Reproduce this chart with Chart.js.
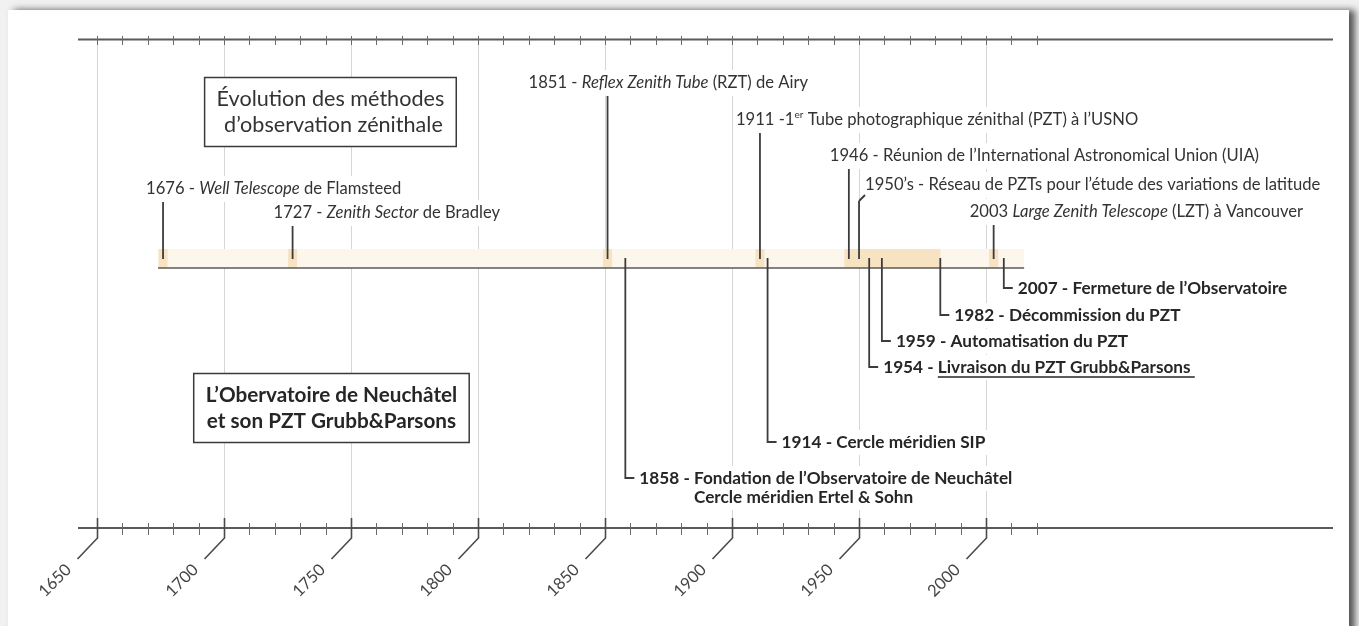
<!DOCTYPE html>
<html>
<head>
<meta charset="utf-8">
<script src="https://cdn.jsdelivr.net/npm/chart.js@4.4.1/dist/chart.umd.min.js"></script>
<style>
  html, body { margin: 0; padding: 0; background: #f3f3f3; }
  canvas { display: block; }
</style>
</head>
<body>
<canvas id="timeline" width="1359" height="626"></canvas>
<script>
// ---- data ----
var upperYears = [1676, 1727, 1851, 1911, 1946, 1950, 2003];
var upperTexts = [
    [["1676 - "], ["Well Telescope", "i"], [" de Flamsteed"]],
    [["1727 - "], ["Zenith Sector", "i"], [" de Bradley"]],
    [["1851 - "], ["Reflex Zenith Tube", "i"], [" (RZT) de Airy"]],
    [["1911 -1"], ["er", "sup"], [" Tube photographique zénithal (PZT) à l\u2019USNO"]],
    [["1946 - Réunion de l\u2019International Astronomical Union (UIA)"]],
    [["1950\u2019s - Réseau de PZTs pour l\u2019étude des variations de latitude"]],
    [["2003 "], ["Large Zenith Telescope", "i"], [" (LZT) à Vancouver"]]
];
var lowerYears = [1858, 1914, 1954, 1959, 1982, 2007];
var lowerTexts = [
    [[["1858 - "], ["Fondation de l\u2019Observatoire de Neuchâtel"]], [["Cercle méridien Ertel & Sohn"]]],
    [[["1914 - Cercle méridien SIP"]]],
    [[["1954 - "], ["Livraison du PZT Grubb&Parsons ", "u"]]],
    [[["1959 - Automatisation du PZT"]]],
    [[["1982 - Décommission du PZT"]]],
    [[["2007 - Fermeture de l\u2019Observatoire"]]]
];
var bandYears = [1674, 2015];
var pztYears = [1946, 1982];
var majorTicks = [1650, 1700, 1750, 1800, 1850, 1900, 1950, 2000];
var tickLabels = ["1650", "1700", "1750", "1800", "1850", "1900", "1950", "2000"];
var boxTitles = [
    ["Évolution des méthodes", "d\u2019observation zénithale"],
    ["L\u2019Obervatoire de Neuchâtel", "et son PZT Grubb&Parsons"]
];

// ---- layout (label heights in y units, 0 = timeline) ----
var upperLevels = [7.9, 5.5, 18.5, 14.8, 11.2, 8.3, 5.6];
var upperShift = [-17, -19, -79, -24, -19, 6, -24];
var lowerLevels = [-21.0, -17.4, -9.9, -7.3, -4.7, -2.0];
var boxPos = [[1741.9, 15.6], [1742.3, -14.0]];

var FONT = "Lato, 'Open Sans', sans-serif";
var upperSize = 16.6;
var lowerSize = 17.2;
var textCol = "#333333";
var boldCol = "#262626";
var lineCol = "#3c3c3c";
var gridCol = "#d6d6d6";
var axisCol = "#5a5a5a";

function segFont(style, size, bold) {
    var s = (style == "i" ? "italic " : "") + (bold ? "bold " : "");
    if (style == "sup") size = Math.round(size * 0.62);
    return s + size + "px " + FONT;
}

function measureRich(ctx, segs, size, bold) {
    var w = 0;
    segs.forEach(seg => {
        ctx.font = segFont(seg[1], size, bold);
        w += ctx.measureText(seg[0]).width;
    });
    return w;
}

function drawRich(ctx, segs, x, y, size, bold, color) {
    ctx.textBaseline = "middle";
    ctx.textAlign = "left";
    ctx.fillStyle = color;
    segs.forEach(seg => {
        ctx.font = segFont(seg[1], size, bold);
        var w = ctx.measureText(seg[0]).width;
        var yy = seg[1] == "sup" ? y - size * 0.32 : y;
        ctx.fillText(seg[0], x, yy);
        if (seg[1] == "u") {
            ctx.strokeStyle = color;
            ctx.lineWidth = 1.3;
            ctx.beginPath();
            ctx.moveTo(x, y + size * 0.58);
            ctx.lineTo(x + w, y + size * 0.58);
            ctx.stroke();
        }
        x += w;
    });
}

function line(ctx, x1, y1, x2, y2) {
    ctx.beginPath();
    ctx.moveTo(x1, y1);
    ctx.lineTo(x2, y2);
    ctx.stroke();
}

var timelinePlugin = {
    id: "timeline",
    beforeDraw(chart) {
        var ctx = chart.ctx;
        ctx.save();
        ctx.fillStyle = "#f1f1f1";
        ctx.fillRect(0, 0, chart.width, chart.height);
        ctx.shadowColor = "rgba(0,0,0,0.65)";
        ctx.shadowBlur = 7;
        ctx.shadowOffsetX = 6;
        ctx.fillStyle = "#ffffff";
        ctx.fillRect(8, 10, 1341, 640);
        ctx.restore();
    },
    afterDraw(chart) {
        var ctx = chart.ctx;
        var xs = chart.scales.x, ys = chart.scales.y;
        var area = chart.chartArea;
        var topY = area.top, botY = area.bottom;
        var baseY = ys.getPixelForValue(0);
        ctx.save();

        // vertical grid every 50 years
        ctx.strokeStyle = gridCol;
        ctx.lineWidth = 1;
        majorTicks.forEach(v => {
            var x = Math.round(xs.getPixelForValue(v)) + 0.5;
            line(ctx, x, topY, x, botY);
        });

        // white backing behind labels (breaks the grid lines)
        ctx.fillStyle = "#ffffff";
        upperYears.forEach((yr, i) => {
            var x = xs.getPixelForValue(yr) + upperShift[i];
            var y = ys.getPixelForValue(upperLevels[i]);
            var w = measureRich(ctx, upperTexts[i], upperSize, false);
            ctx.fillRect(x - 2, y - 13, w + 4, 26);
        });
        lowerYears.forEach((yr, i) => {
            var x = xs.getPixelForValue(yr) + 14;
            var y = ys.getPixelForValue(lowerLevels[i]);
            lowerTexts[i].forEach((segs, k) => {
                var w = measureRich(ctx, segs, lowerSize, true);
                ctx.fillRect(x - 2, y - 12 + k * 19, w + 4, 25);
            });
        });

        // timeline band
        var bandTop = ys.getPixelForValue(1.9);
        var bx1 = xs.getPixelForValue(bandYears[0]), bx2 = xs.getPixelForValue(bandYears[1]);
        ctx.fillStyle = "#fdf6ec";
        ctx.fillRect(bx1, bandTop, bx2 - bx1, baseY - bandTop);
        ctx.fillStyle = "#f7e2c2";
        var px1 = xs.getPixelForValue(pztYears[0]), px2 = xs.getPixelForValue(pztYears[1]);
        ctx.fillRect(px1, bandTop, px2 - px1, baseY - bandTop);
        upperYears.forEach(yr => {
            var x = xs.getPixelForValue(yr);
            ctx.fillRect(x - 4.5, bandTop, 9, baseY - bandTop);
        });
        ctx.strokeStyle = axisCol;
        ctx.lineWidth = 1.6;
        line(ctx, bx1, baseY, bx2, baseY);

        // top axis
        ctx.strokeStyle = axisCol;
        ctx.lineWidth = 1.8;
        line(ctx, area.left, topY + 1.5, area.right, topY + 1.5);
        ctx.lineWidth = 1;
        ctx.strokeStyle = "#6a6a6a";
        for (var t = 1650; t <= 2020; t += 10) {
            var tx = Math.round(xs.getPixelForValue(t)) + 0.5;
            line(ctx, tx, topY - 2, tx, topY + 7);
        }

        // bottom axis
        ctx.strokeStyle = axisCol;
        ctx.lineWidth = 1.8;
        line(ctx, area.left, botY, area.right, botY);
        ctx.lineWidth = 1;
        ctx.strokeStyle = "#6a6a6a";
        for (var t2 = 1650; t2 <= 2020; t2 += 10) {
            var tx2 = Math.round(xs.getPixelForValue(t2)) + 0.5;
            line(ctx, tx2, botY - 5, tx2, botY + 7);
        }
        ctx.strokeStyle = "#4a4a4a";
        ctx.lineWidth = 1.6;
        majorTicks.forEach((v, i) => {
            var x = Math.round(xs.getPixelForValue(v)) + 0.5;
            ctx.beginPath();
            ctx.moveTo(x, botY - 10);
            ctx.lineTo(x, botY + 10);
            ctx.lineTo(x - 20, botY + 31);
            ctx.stroke();
            ctx.save();
            ctx.translate(x - 29, botY + 39);
            ctx.rotate(-Math.PI / 4);
            ctx.font = "16.5px " + FONT;
            ctx.fillStyle = "#444444";
            ctx.textAlign = "right";
            ctx.textBaseline = "middle";
            ctx.fillText(tickLabels[i], 0, 0);
            ctx.restore();
        });

        // upper events
        ctx.strokeStyle = lineCol;
        ctx.lineWidth = 1.8;
        upperYears.forEach((yr, i) => {
            var x = xs.getPixelForValue(yr);
            var y = ys.getPixelForValue(upperLevels[i]);
            var lx = x + upperShift[i];
            var endY = ys.getPixelForValue(0.9);
            if (upperShift[i] > 0) {
                line(ctx, lx, y + 10, x, y + 16);
                line(ctx, x, y + 16, x, endY);
            } else {
                line(ctx, x, y + 13, x, endY);
            }
            drawRich(ctx, upperTexts[i], lx, y, upperSize, false, textCol);
        });

        // lower events
        lowerYears.forEach((yr, i) => {
            var x = xs.getPixelForValue(yr);
            var y = ys.getPixelForValue(lowerLevels[i]);
            var startY = ys.getPixelForValue(1.0);
            ctx.strokeStyle = lineCol;
            ctx.lineWidth = 1.8;
            ctx.beginPath();
            ctx.moveTo(x, startY);
            ctx.lineTo(x, y);
            ctx.lineTo(x + 9, y);
            ctx.stroke();
            var lx = x + 14;
            lowerTexts[i].forEach((segs, k) => {
                var off = 0;
                if (k > 0) off = measureRich(ctx, lowerTexts[i][0].slice(0, 1), lowerSize, true);
                drawRich(ctx, segs, lx + off, y + k * 19, lowerSize, true, boldCol);
            });
        });

        // title boxes
        boxTitles.forEach((lines, i) => {
            var bold = i == 1;
            var size = bold ? 20.7 : 21.6;
            var cx = xs.getPixelForValue(boxPos[i][0]);
            var cy = ys.getPixelForValue(boxPos[i][1]);
            ctx.font = (bold ? "bold " : "") + size + "px " + FONT;
            var w = Math.max.apply(null, lines.map(s => ctx.measureText(s).width)) + 24;
            var h = lines.length * 26 + 17;
            ctx.fillStyle = "#ffffff";
            ctx.fillRect(cx - w / 2, cy - h / 2, w, h);
            ctx.strokeStyle = "#3a3a3a";
            ctx.lineWidth = 1.5;
            ctx.strokeRect(cx - w / 2, cy - h / 2, w, h);
            ctx.fillStyle = bold ? boldCol : textCol;
            ctx.textAlign = "center";
            ctx.textBaseline = "middle";
            lines.forEach((s, k) => {
                ctx.fillText(s, cx + (k == 1 && !bold ? 3 : 0), cy + (k - (lines.length - 1) / 2) * 26);
            });
        });
        ctx.restore();
    }
};

var canvas = document.getElementById("timeline");
var chart = new Chart(canvas.getContext("2d"), {
    type: "scatter",
    data: {
        datasets: [
            { data: upperYears.map((v, i) => ({ x: v, y: upperLevels[i] })), pointRadius: 0 },
            { data: lowerYears.map((v, i) => ({ x: v, y: lowerLevels[i] })), pointRadius: 0 }
        ]
    },
    options: {
        responsive: false,
        animation: false,
        devicePixelRatio: 1,
        events: [],
        layout: { padding: { left: 78, right: 26, top: 38, bottom: 98 } },
        plugins: { legend: { display: false }, tooltip: { enabled: false } },
        scales: {
            x: { type: "linear", display: false, min: 1642.52, max: 2136.6 },
            y: { type: "linear", display: false, min: -26, max: 23 }
        }
    },
    plugins: [timelinePlugin]
});
</script>
</body>
</html>
